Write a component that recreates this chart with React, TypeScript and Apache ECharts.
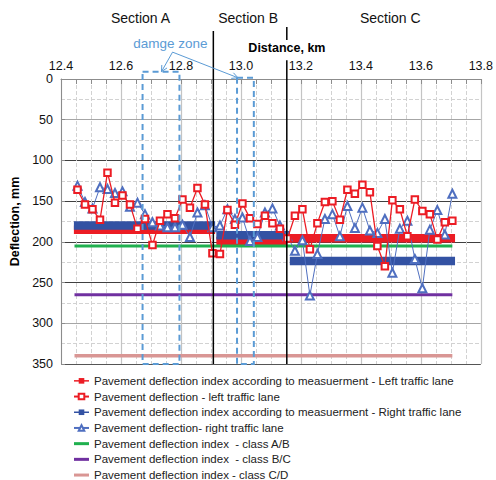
import React, { useEffect, useRef } from "react";
import * as echarts from "echarts";

// ---------- DATA ----------
const distanceKm = [
  12.455, 12.48, 12.505, 12.53, 12.555, 12.58, 12.605, 12.63, 12.655, 12.68,
  12.705, 12.73, 12.755, 12.78, 12.805, 12.83, 12.855, 12.88, 12.905, 12.93,
  12.955, 12.98, 13.005, 13.03, 13.055, 13.08, 13.105, 13.13, 13.155, 13.18,
  13.205, 13.23, 13.255, 13.28, 13.305, 13.33, 13.355, 13.38, 13.405, 13.43,
  13.455, 13.48, 13.505, 13.53, 13.555, 13.58, 13.605, 13.63, 13.655, 13.68, 13.705,
];
const leftLaneDeflection = [
  136, 154, 160, 173, 115, 152, 143, 154, 184, 172,
  204, 174, 166, 171, 148, 158, 134, 154, 214, 215,
  161, 179, 153, 171, 178, 168, 177, 184, 196, 168,
  160, 209, 177, 151, 150, 173, 136, 141, 130, 139,
  205, 230, 149, 160, 193, 148, 162, 166, 197, 176, 174,
];
const rightLaneDeflection = [
  131, 151, 159, 133, 135, 140, 138, 157, 152, 166,
  176, 180, 182, 182, 179, 194, 164, 155, 182, 180,
  160, 172, 170, 199, 194, 164, 159, 180, 193, 211,
  198, 266, 215, 172, 166, 193, 156, 183, 158, 186,
  189, 172, 238, 184, 174, 221, 257, 185, 161, 191, 141,
];
// section index values: [startKm, endKm, deflection]
const leftIndexSegments = [
  [12.443, 12.914, 185],
  [12.918, 13.155, 199],
  [13.155, 13.714, 195.5],
];
const rightIndexSegments = [
  [12.443, 12.914, 180],
  [12.918, 13.163, 192],
  [13.163, 13.714, 223.5],
];
const classRangeKm = [12.445, 13.705];
const classAB = 205;
const classBC = 265;
const classCD = 340;

const sectionNames = ["Section A", "Section B", "Section C"];
const sectionLabelKm = [12.665, 13.024, 13.498];
const sectionBoundaryKm = [12.908, 13.153];
// damage zones: [startKm, endKm, topDeflection]
const damageZones = [
  [12.672, 12.795, -9],
  [12.987, 13.043, -1.5],
];
const damageLabel = "damge zone";

const names = {
  leftIdx: "Pavement deflection index according to measuerment - Left traffic lane",
  left: "Pavement deflection - left traffic lane",
  rightIdx: "Pavement deflection index according to measuerment - Right traffic lane",
  right: "Pavement deflection- right traffic lane",
  ab: "Pavement deflection index  - class A/B",
  bc: "Pavement deflection index  - class B/C",
  cd: "Pavement deflection index - class C/D",
};

const FONT = "Arial, 'Liberation Sans', sans-serif";
const RED = "#ec1c24";
const BLUE_BAND = "#3352a3";
const BLUE_LINE = "#4f6fc0";
const ZONE = "#5b9bd5";
const LINE_ICON = "path://M0,0h20v4h-20z";

function segData(segs: number[][]) {
  const out: any[] = [];
  segs.forEach(([a, b, v], i) => {
    if (i > 0) out.push([a, "-"]);
    out.push([a, v], [b, v]);
  });
  return out;
}

export default function App() {
  const ref = useRef<HTMLDivElement>(null);
  useEffect(() => {
    if (!ref.current) return;
    const chart = echarts.init(ref.current, undefined, { renderer: "svg" });
    const option: any = {
      animation: false,
      backgroundColor: "#fff",
      textStyle: { fontFamily: FONT },
      grid: { left: 60, right: 15, top: 79, bottom: 116 },
      legend: {
        orient: "vertical",
        left: 73,
        top: 374,
        height: 110,
        padding: 0,
        itemWidth: 15,
        itemHeight: 7,
        itemGap: 2,
        textStyle: { fontSize: 11.5, color: "#222", fontFamily: FONT, lineHeight: 13.7 },
        data: [
          { name: names.leftIdx, lineStyle: { width: 1.5 } },
          { name: names.left },
          { name: names.rightIdx, lineStyle: { width: 1.5 } },
          { name: names.right },
          { name: names.ab, icon: LINE_ICON },
          { name: names.bc, icon: LINE_ICON },
          { name: names.cd, icon: LINE_ICON },
        ],
      },
      xAxis: {
        type: "value",
        position: "top",
        min: 12.4,
        max: 13.8,
        interval: 0.2,
        name: "Distance, km",
        nameLocation: "middle",
        nameGap: 25,
        nameTextStyle: { fontWeight: "bold", fontSize: 12.5, color: "#000", padding: [0, 0, 0, 32], fontFamily: FONT },
        axisLine: { show: true, lineStyle: { color: "#8c8c8c" } },
        axisTick: { show: true, inside: true, length: 5, lineStyle: { color: "#8c8c8c" } },
        minorTick: { show: true, splitNumber: 4, length: 5, lineStyle: { color: "#8c8c8c" } },
        axisLabel: { formatter: (v: number) => v.toFixed(1), fontSize: 12.5, color: "#111", margin: 7, fontFamily: FONT },
        splitLine: { show: true, lineStyle: { color: "#c4c4c4", width: 1.2 } },
        minorSplitLine: { show: true, lineStyle: { color: "#d2d2d2", type: "dashed" } },
      },
      yAxis: {
        type: "value",
        inverse: true,
        min: 0,
        max: 350,
        interval: 50,
        name: "Deflection, mm",
        nameLocation: "middle",
        nameGap: 40,
        nameRotate: 90,
        nameTextStyle: { fontWeight: "bold", fontSize: 12.5, color: "#000", fontFamily: FONT },
        axisLine: { show: true, lineStyle: { color: "#8c8c8c" } },
        axisTick: { show: true, inside: true, length: 4, lineStyle: { color: "#8c8c8c" } },
        minorTick: { show: false, splitNumber: 2 },
        axisLabel: { fontSize: 12.5, color: "#111", margin: 8, fontFamily: FONT },
        splitLine: {
          show: true,
          lineStyle: { color: ["#999", "#a6a6a6", "#404040", "#404040", "#404040", "#404040", "#a6a6a6", "#555"], width: 1 },
        },
        minorSplitLine: { show: true, lineStyle: { color: "#d2d2d2", type: "dashed" } },
      },
      series: [
        {
          name: names.leftIdx, type: "line", data: segData(leftIndexSegments), z: 2,
          symbol: "rect", showSymbol: false, symbolSize: 7, connectNulls: false,
          itemStyle: { color: RED }, lineStyle: { color: RED, width: 8.5, cap: "butt" },
        },
        {
          name: names.rightIdx, type: "line", data: segData(rightIndexSegments), z: 3,
          symbol: "rect", showSymbol: false, symbolSize: 7, connectNulls: false,
          itemStyle: { color: BLUE_BAND }, lineStyle: { color: BLUE_BAND, width: 8.5, cap: "butt" },
        },
        {
          name: names.ab, type: "line", data: classRangeKm.map((x) => [x, classAB]), z: 2,
          symbol: "none", lineStyle: { color: "#1fb04e", width: 3 }, itemStyle: { color: "#1fb04e" },
        },
        {
          name: names.bc, type: "line", data: classRangeKm.map((x) => [x, classBC]), z: 2,
          symbol: "none", lineStyle: { color: "#7030a0", width: 3 }, itemStyle: { color: "#7030a0" },
        },
        {
          name: names.cd, type: "line", data: classRangeKm.map((x) => [x, classCD]), z: 2,
          symbol: "none", lineStyle: { color: "#d99694", width: 3.5 }, itemStyle: { color: "#d99694" },
        },
        {
          name: names.left, type: "line", z: 5,
          data: distanceKm.map((x, i) => [x, leftLaneDeflection[i]]),
          symbol: "emptyRect", symbolSize: 6.5, showAllSymbol: true,
          itemStyle: { color: RED, borderWidth: 1 }, lineStyle: { color: RED, width: 1.3 },
        },
        {
          name: names.right, type: "line", z: 4,
          data: distanceKm.map((x, i) => [x, rightLaneDeflection[i]]),
          symbol: "emptyTriangle", symbolSize: 8, showAllSymbol: true,
          itemStyle: { color: BLUE_LINE, borderWidth: 1 }, lineStyle: { color: BLUE_LINE, width: 1 },
        },
      ],
    };
    chart.setOption(option);

    const toPx = (x: number, y: number) =>
      chart.convertToPixel({ xAxisIndex: 0, yAxisIndex: 0 }, [x, y]) as number[];
    const g: any[] = [];
    sectionNames.forEach((s, i) => {
      const p = toPx(sectionLabelKm[i], -75);
      g.push({
        type: "text", x: p[0], y: p[1], z: 10,
        style: { text: s, fontSize: 14, fontFamily: FONT, fill: "#111", align: "center", verticalAlign: "middle" },
      });
    });
    const b1t = toPx(sectionBoundaryKm[0], -59);
    const b1b = toPx(sectionBoundaryKm[0], 350);
    g.push({ type: "line", z: 10, shape: { x1: b1t[0], y1: b1t[1], x2: b1b[0], y2: b1b[1] }, style: { stroke: "#000", lineWidth: 1.5 } });
    const b2a = toPx(sectionBoundaryKm[1], -64);
    const b2b = toPx(sectionBoundaryKm[1], -48);
    const b2c = toPx(sectionBoundaryKm[1], -23);
    const b2d = toPx(sectionBoundaryKm[1], 350);
    g.push({ type: "line", z: 10, shape: { x1: b2a[0], y1: b2a[1], x2: b2b[0], y2: b2b[1] }, style: { stroke: "#000", lineWidth: 1.5 } });
    g.push({ type: "line", z: 10, shape: { x1: b2c[0], y1: b2c[1], x2: b2d[0], y2: b2d[1] }, style: { stroke: "#000", lineWidth: 1.5 } });
    damageZones.forEach(([a, b, top]) => {
      const p0 = toPx(a, top);
      const p1 = toPx(b, 350);
      g.push({
        type: "rect", z: 10,
        shape: { x: p0[0], y: p0[1], width: p1[0] - p0[0], height: p1[1] - p0[1] },
        style: { fill: "none", stroke: ZONE, lineWidth: 2, lineDash: [6, 4] },
      });
    });
    const lp = toPx(12.765, -44);
    g.push({
      type: "text", x: lp[0], y: lp[1], z: 10,
      style: { text: damageLabel, fontSize: 13.5, fontFamily: FONT, fill: ZONE, align: "center", verticalAlign: "middle" },
    });
    const start = toPx(12.772, -33);
    const targets = [toPx(12.735, -9), toPx(12.99, -1.5)];
    targets.forEach((t) => {
      g.push({ type: "line", z: 10, shape: { x1: start[0], y1: start[1], x2: t[0], y2: t[1] }, style: { stroke: ZONE, lineWidth: 1 } });
      const dx = t[0] - start[0], dy = t[1] - start[1];
      const d = Math.hypot(dx, dy);
      const ux = dx / d, uy = dy / d;
      const len = 6, half = 3;
      const bx = t[0] - ux * len, by = t[1] - uy * len;
      g.push({
        type: "polyline", z: 10,
        shape: { points: [[bx - uy * half, by + ux * half], [t[0], t[1]], [bx + uy * half, by - ux * half]] },
        style: { stroke: ZONE, lineWidth: 1, fill: "none" },
      });
    });
    chart.setOption({ graphic: g });

    return () => chart.dispose();
  }, []);
  return <div ref={ref} style={{ position: "fixed", left: 0, top: 0, width: 496, height: 480 }} />;
}
